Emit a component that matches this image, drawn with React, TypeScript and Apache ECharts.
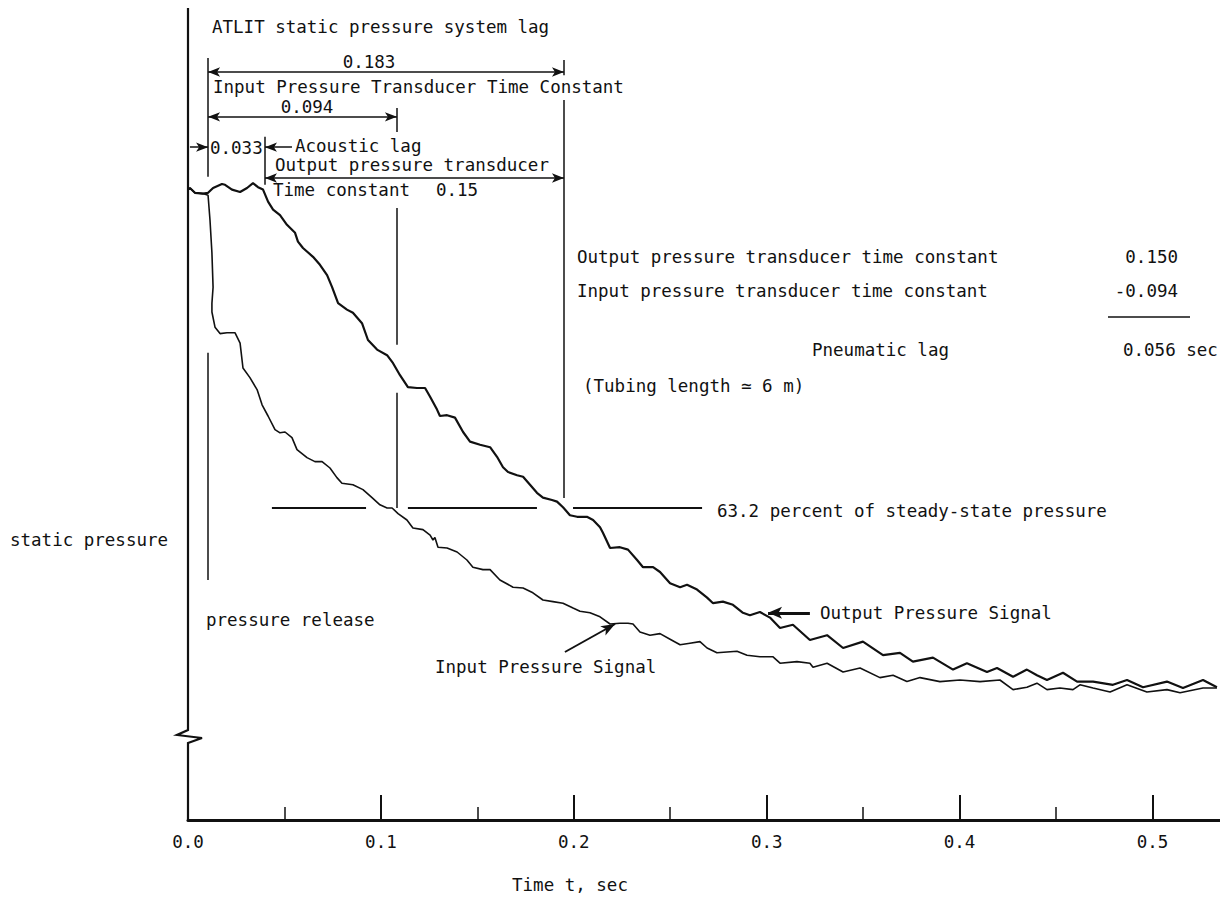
import React, { useEffect, useRef } from "react";
import * as echarts from "echarts";

// ---- data (time in s, static pressure in arbitrary units) ----
const xTicks = [0, 0.1, 0.2, 0.3, 0.4, 0.5];

const outputTime = [
  0, 0.001, 0.0036, 0.0078, 0.0104, 0.013, 0.0176, 0.0192, 0.0228, 0.027,
  0.0306, 0.0337, 0.0363, 0.0389, 0.0415, 0.0441, 0.0477, 0.0513, 0.0555, 0.057,
  0.0596, 0.0648, 0.0684, 0.0721, 0.0747, 0.0778, 0.0824, 0.0855, 0.0902, 0.0933,
  0.098, 0.1032, 0.1063, 0.1099, 0.114, 0.1187, 0.1229, 0.1255, 0.1291, 0.1306,
  0.1343, 0.1384, 0.1426, 0.1462, 0.1514, 0.1566, 0.1602, 0.1633, 0.1659, 0.1706,
  0.1737, 0.1773, 0.1809, 0.184, 0.1887, 0.1913, 0.1944, 0.198, 0.2017, 0.2068,
  0.21, 0.2136, 0.2151, 0.2188, 0.2239, 0.2281, 0.2328, 0.2359, 0.2411, 0.2447,
  0.2499, 0.2551, 0.2587, 0.2639, 0.2691, 0.2722, 0.2773, 0.2825, 0.2877, 0.2913,
  0.2965, 0.3017, 0.3069, 0.3136, 0.3224, 0.3313, 0.3396, 0.3499, 0.3603, 0.3691,
  0.3758, 0.3862, 0.3966, 0.4038, 0.4142, 0.4194, 0.4277, 0.4349, 0.4401, 0.4453,
  0.4536, 0.4609, 0.4692, 0.4795, 0.4868, 0.4951, 0.5075, 0.5158, 0.5262, 0.5334,
];
const outputPressure = [
  78.8, 79.0, 78.4, 78.3, 78.4, 79.0, 79.5, 79.4, 78.8, 78.5,
  79.0, 79.6, 79.1, 78.8, 77.3, 76.3, 75.6, 74.4, 73.4, 72.3,
  71.5, 70.4, 69.4, 68.1, 66.6, 64.6, 63.8, 63.4, 62.1, 60.0,
  58.8, 58.1, 57.1, 55.6, 54.1, 54.0, 54.0, 52.9, 51.3, 50.5,
  50.6, 50.3, 48.5, 47.3, 46.9, 46.6, 45.4, 44.1, 43.5, 43.1,
  42.9, 41.9, 40.9, 40.3, 40.0, 39.8, 39.1, 38.1, 37.9, 37.9,
  37.5, 36.6, 35.9, 34.0, 34.1, 33.8, 32.5, 31.6, 31.6, 31.0,
  29.6, 29.1, 29.4, 28.8, 27.8, 27.1, 27.3, 26.9, 25.9, 25.6,
  26.0, 25.3, 24.0, 24.4, 22.5, 23.1, 21.5, 22.3, 20.6, 20.9,
  19.8, 20.3, 18.8, 19.6, 18.5, 19.0, 17.9, 18.8, 18.1, 17.5,
  18.4, 17.3, 17.3, 16.9, 17.5, 16.6, 17.3, 16.5, 17.5, 16.6,
];

const inputTime = [
  0, 0.001, 0.0036, 0.0078, 0.0104, 0.0114, 0.0124, 0.013, 0.0124, 0.0124,
  0.014, 0.0166, 0.0202, 0.0244, 0.027, 0.0285, 0.0321, 0.0358, 0.0384, 0.0415,
  0.0451, 0.0477, 0.0503, 0.0539, 0.0565, 0.0617, 0.0658, 0.0695, 0.0736, 0.0772,
  0.0798, 0.0855, 0.0907, 0.0954, 0.0995, 0.1032, 0.1058, 0.1089, 0.1135, 0.1166,
  0.1218, 0.1255, 0.127, 0.128, 0.1296, 0.1343, 0.1395, 0.1446, 0.1477, 0.1529,
  0.1566, 0.1617, 0.1685, 0.1737, 0.1788, 0.184, 0.1892, 0.1944, 0.1996, 0.2032,
  0.2084, 0.2136, 0.2188, 0.2239, 0.2281, 0.2307, 0.2343, 0.2395, 0.2447, 0.2499,
  0.2551, 0.2602, 0.2654, 0.2691, 0.2742, 0.2794, 0.2846, 0.2898, 0.2965, 0.3033,
  0.3069, 0.3157, 0.3224, 0.324, 0.3313, 0.3396, 0.3484, 0.3587, 0.3655, 0.3727,
  0.3795, 0.3898, 0.4002, 0.4106, 0.4209, 0.4277, 0.4349, 0.4401, 0.4453, 0.452,
  0.4588, 0.4624, 0.4692, 0.478, 0.4868, 0.4971, 0.5075, 0.5143, 0.5262, 0.5334,
];
const inputPressure = [
  78.8, 79.0, 78.4, 78.3, 78.1, 75.0, 70.9, 66.6, 64.6, 63.5,
  61.6, 60.8, 60.9, 60.9, 59.6, 56.5, 55.3, 53.8, 51.9, 50.5,
  48.8, 48.4, 48.5, 47.8, 46.3, 45.3, 44.8, 44.8, 44.0, 42.8,
  42.1, 41.9, 41.3, 40.3, 39.4, 39.0, 39.0, 38.3, 37.5, 36.5,
  36.3, 35.6, 35.0, 35.3, 34.1, 34.0, 33.5, 32.5, 31.6, 31.3,
  31.3, 30.0, 29.1, 29.0, 28.4, 27.5, 27.3, 27.1, 26.5, 26.1,
  25.9, 25.4, 24.5, 24.6, 24.6, 24.5, 23.5, 23.1, 23.3, 22.6,
  21.9, 22.1, 22.3, 21.5, 20.9, 21.0, 21.1, 20.6, 20.4, 20.4,
  19.6, 19.8, 19.6, 19.1, 19.6, 18.5, 19.0, 17.8, 18.1, 17.3,
  17.8, 17.3, 17.5, 17.3, 17.5, 16.3, 16.6, 17.1, 16.3, 16.5,
  16.3, 16.9, 16.5, 16.0, 16.9, 16.0, 16.3, 15.9, 16.5, 16.5,
];

// annotation times (s) and levels (pressure units)
const releaseT = 0.0104;
const acousticEndT = 0.0399;
const inputTcEndT = 0.1083;
const outputTcEndT = 0.1949;
const level632 = 39.0;
const level632Segments = [
  [0.0435, 0.0923],
  [0.114, 0.1809],
  [0.1996, 0.2665],
];

const FONT = '"DejaVu Sans Mono", monospace';
const INK = "#111";

function seg(
  t1: number, p1: number, t2: number, p2: number,
  s1 = "none", s2 = "none", width = 1.5, size: number[] = [7, 12]
) {
  return [
    { coord: [t1, p1], symbol: s1, symbolSize: size },
    { coord: [t2, p2], symbol: s2, symbolSize: size, lineStyle: { width, color: INK, type: "solid" } },
  ];
}

const texts: [string, number, number, string][] = [
  ["ATLIT static pressure system lag", 212, 27, "left"],
  ["0.183", 369, 62, "center"],
  ["Input Pressure Transducer Time Constant", 213, 87, "left"],
  ["0.094", 307, 107, "center"],
  ["0.033", 210, 148, "left"],
  ["Acoustic lag", 295, 146, "left"],
  ["Output pressure transducer", 275, 165, "left"],
  ["Time constant", 273, 190, "left"],
  ["0.15", 436, 190, "left"],
  ["Output pressure transducer time constant", 577, 257, "left"],
  ["Input pressure transducer time constant", 577, 291, "left"],
  ["0.150", 1178, 257, "right"],
  ["-0.094", 1178, 291, "right"],
  ["Pneumatic lag", 812, 350, "left"],
  ["0.056 sec", 1123, 350, "left"],
  ["(Tubing length \u2243 6 m)", 583, 386, "left"],
  ["static pressure", 10, 540, "left"],
  ["pressure release", 206, 620, "left"],
  ["63.2 percent of steady-state pressure", 717, 511, "left"],
  ["Output Pressure Signal", 820, 613, "left"],
  ["Input Pressure Signal", 435, 667, "left"],
  ["Time t, sec", 570, 885, "center"],
];

export default function App() {
  const ref = useRef<HTMLDivElement>(null);
  useEffect(() => {
    if (!ref.current) return;
    const chart = echarts.init(ref.current, null, { renderer: "svg" });

    const outData = outputTime.map((t, i) => [t, outputPressure[i]]);
    const inData = inputTime.map((t, i) => [t, inputPressure[i]]);

    const markData: any[] = [
      // vertical reference lines
      seg(releaseT, 95.25, releaseT, 80.4),
      seg(releaseT, 58.4, releaseT, 30.0),
      seg(acousticEndT, 85.4, acousticEndT, 79.4),
      seg(inputTcEndT, 89.0, inputTcEndT, 86.0),
      seg(inputTcEndT, 76.5, inputTcEndT, 59.4),
      seg(inputTcEndT, 53.4, inputTcEndT, level632),
      seg(outputTcEndT, 95.0, outputTcEndT, 93.1),
      seg(outputTcEndT, 90.0, outputTcEndT, 40.25),
      // dimension arrows
      seg(releaseT, 93.5, outputTcEndT, 93.5, "arrow", "arrow"),
      seg(releaseT, 87.9, inputTcEndT, 87.9, "arrow", "arrow"),
      seg(0.001, 84.1, releaseT, 84.1, "none", "arrow"),
      seg(0.0539, 84.1, acousticEndT, 84.1, "none", "arrow"),
      seg(acousticEndT, 80.25, outputTcEndT, 80.25, "arrow", "arrow"),
      // 63.2 percent level
      ...level632Segments.map(([a, b]) => seg(a, level632, b, level632, "none", "none", 2.2)),
      // signal pointers
      seg(0.3224, 25.9, 0.3007, 25.9, "none", "arrow", 3, [9, 14]),
      seg(0.1954, 21.0, 0.2214, 24.5, "none", "arrow", 2, [8, 14]),
    ];

    const graphics: any[] = [
      {
        type: "polyline",
        shape: { points: [[188, 8], [188, 730], [177, 735], [202, 738], [188, 743], [188, 821]] },
        style: { stroke: INK, lineWidth: 2.2, fill: null },
        silent: true,
      },
      {
        type: "line",
        shape: { x1: 1108, y1: 317, x2: 1190, y2: 317 },
        style: { stroke: INK, lineWidth: 1.5 },
        silent: true,
      },
      ...texts.map(([text, x, y, align]) => ({
        type: "text",
        x,
        y,
        silent: true,
        style: {
          text,
          fill: INK,
          font: `17.5px ${FONT}`,
          textAlign: align,
          align,
          textVerticalAlign: "middle",
          verticalAlign: "middle",
        },
      })),
    ];

    chart.setOption({
      animation: false,
      backgroundColor: "#fff",
      grid: { left: 188, right: 0, top: 8, bottom: 86, containLabel: false },
      xAxis: {
        type: "value",
        min: 0,
        max: 0.535,
        interval: 0.1,
        splitLine: { show: false },
        axisLine: { show: true, lineStyle: { color: INK, width: 3 } },
        axisTick: {
          show: true,
          inside: true,
          length: 25,
          customValues: xTicks,
          lineStyle: { color: INK, width: 2 },
        },
        minorTick: { show: true, splitNumber: 2, length: 13, lineStyle: { color: INK, width: 1.5 } },
        axisLabel: {
          customValues: xTicks,
          formatter: (v: number) => v.toFixed(1),
          color: INK,
          fontFamily: FONT,
          fontSize: 17.5,
          margin: 13,
        },
      },
      yAxis: {
        type: "value",
        min: 0,
        max: 101.5,
        show: true,
        axisLine: { show: false },
        axisTick: { show: false },
        axisLabel: { show: false },
        splitLine: { show: false },
      },
      series: [
        {
          type: "line",
          name: "Output Pressure Signal",
          data: outData,
          showSymbol: false,
          symbol: "none",
          lineStyle: { color: INK, width: 2.2 },
          silent: true,
          markLine: {
            silent: true,
            animation: false,
            symbol: ["none", "none"],
            label: { show: false },
            emphasis: { disabled: true },
            lineStyle: { color: INK, width: 1.5, type: "solid" },
            data: markData,
          },
        },
        {
          type: "line",
          name: "Input Pressure Signal",
          data: inData,
          showSymbol: false,
          symbol: "none",
          lineStyle: { color: INK, width: 1.6 },
          silent: true,
        },
      ],
      graphic: graphics,
    });

    return () => chart.dispose();
  }, []);

  return (
    <div
      ref={ref}
      style={{ position: "absolute", left: 0, top: 0, width: 1220, height: 906, background: "#fff" }}
    />
  );
}
